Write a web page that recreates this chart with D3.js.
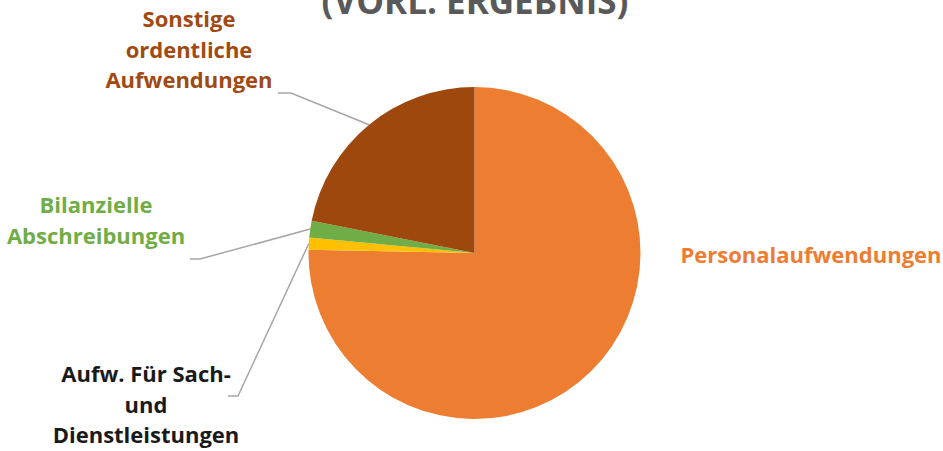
<!DOCTYPE html>
<html>
<head>
<meta charset="utf-8">
<script src="https://cdn.jsdelivr.net/npm/d3@7"></script>
<style>
  html, body { margin: 0; padding: 0; background: #fff; }
  svg { display: block; }
  text { font-family: "Open Sans", "Noto Sans", sans-serif; font-weight: 700; }
</style>
</head>
<body>
<svg id="chart" width="943" height="451"></svg>
<script>
// Aufwendungen (vorl. Ergebnis), Anteile in Prozent
const categories = [
  "Personalaufwendungen",
  "Aufw. Für Sach- und Dienstleistungen",
  "Bilanzielle Abschreibungen",
  "Sonstige ordentliche Aufwendungen"
];
const values = [75.3, 1.2, 1.6, 21.9];
const sliceColors = ["#ED7D31", "#FFC000", "#70AD47", "#9E480E"];
const labelLines = [
  ["Personalaufwendungen"],
  ["Aufw. Für Sach-", "und", "Dienstleistungen"],
  ["Bilanzielle", "Abschreibungen"],
  ["Sonstige", "ordentliche", "Aufwendungen"]
];
const labelColors = ["#ED7D31", "#1a1a1a", "#70AD47", "#A04A12"];
const titleText = "(VORL. ERGEBNIS)";

const svg = d3.select("#chart");
const cx = 474.5, cy = 253, radius = 166;

// title (second line, running over the top edge)
svg.append("text")
  .attr("x", 475).attr("y", 14)
  .attr("text-anchor", "middle")
  .attr("fill", "#595959")
  .attr("font-size", 35)
  .text(titleText);

const data = categories.map((c, i) => ({ name: c, value: values[i], i }));
const pie = d3.pie().sort(null).value(d => d.value);
const arcs = pie(data);
const arc = d3.arc().innerRadius(0).outerRadius(radius);

const g = svg.append("g").attr("transform", `translate(${cx},${cy})`);
g.selectAll("path.slice")
  .data(arcs)
  .join("path")
  .attr("class", "slice")
  .attr("d", arc)
  .attr("fill", d => sliceColors[d.data.i]);

// label placement: text anchor point and leader elbow
const labelLayout = [
  { x: 811, y: 263, line: null },
  { x: 146, y: 382, line: { ex: 228, ey: 396, kx: 238 } },
  { x: 96, y: 213, line: { ex: 190, ey: 259, kx: 200 } },
  { x: 189, y: 27, line: { ex: 278, ey: 93, kx: 291 } }
];
const lineHeight = 30.5;

arcs.forEach((a, k) => {
  const L = labelLayout[k];
  if (L.line) {
    const mid = (a.startAngle + a.endAngle) / 2;
    const px = cx + radius * Math.sin(mid);
    const py = cy - radius * Math.cos(mid);
    svg.append("path")
      .attr("d", d3.line()([[L.line.ex, L.line.ey], [L.line.kx, L.line.ey], [px, py]]))
      .attr("fill", "none")
      .attr("stroke", "#A6A6A6")
      .attr("stroke-width", 1.5);
  }
  const t = svg.append("text")
    .attr("text-anchor", "middle")
    .attr("fill", labelColors[k])
    .attr("font-size", 22);
  labelLines[k].forEach((ln, j) => {
    t.append("tspan").attr("x", L.x).attr("y", L.y + j * lineHeight).text(ln);
  });
});
</script>
</body>
</html>
